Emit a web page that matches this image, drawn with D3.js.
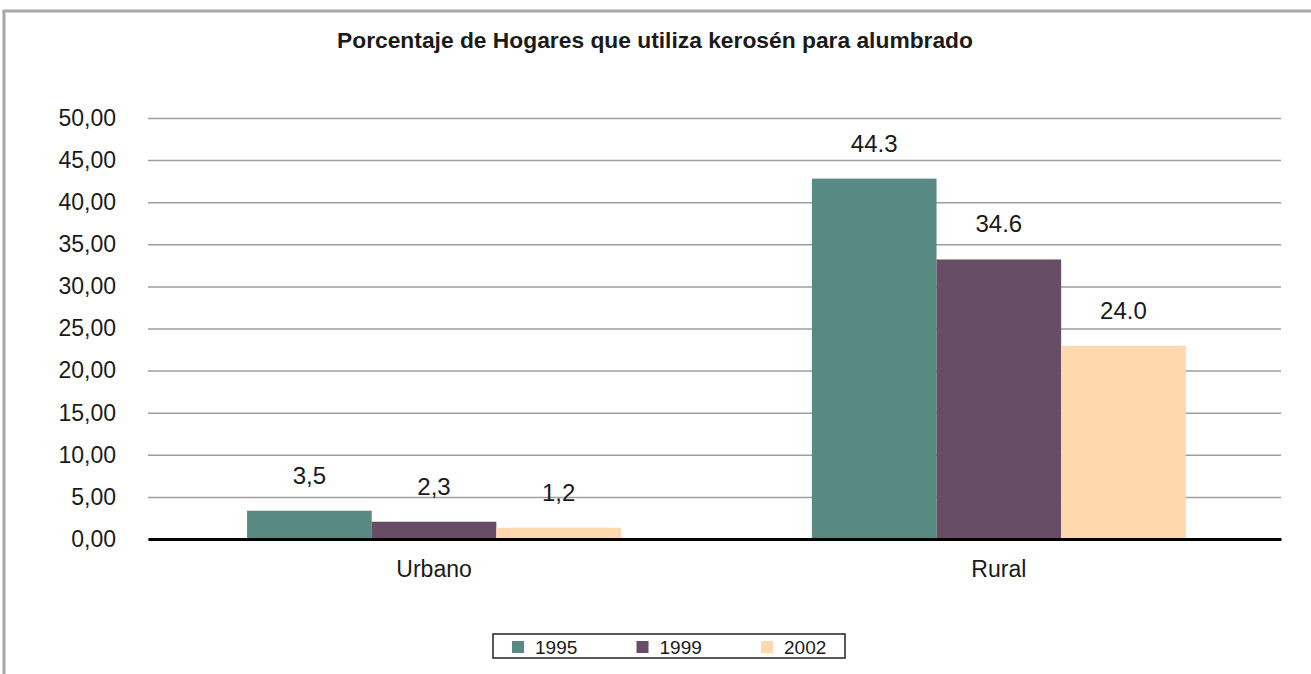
<!DOCTYPE html>
<html>
<head>
<meta charset="utf-8">
<script src="https://cdn.jsdelivr.net/npm/d3@7"></script>
<style>
  body { margin: 0; background: #fff; }
  svg { display: block; font-family: "Liberation Sans", Arial, sans-serif; }
</style>
</head>
<body>
<svg id="chart"></svg>
<script>
// datos
const categories = ["Urbano", "Rural"]
const years = ["1995", "1999", "2002"]
const values1995 = [3.36, 42.8]
const values1999 = [2.05, 33.2]
const values2002 = [1.34, 22.95]
const labels1995 = ["3,5", "44.3"]
const labels1999 = ["2,3", "34.6"]
const labels2002 = ["1,2", "24.0"]
const yTicks = [0, 5, 10, 15, 20, 25, 30, 35, 40, 45, 50]
const colors = ["#588983", "#684d66", "#ffd8ae"]

const width = 1311
const height = 674
const margin = {top: 118, right: 30, bottom: 135, left: 148}

const series = [values1995, values1999, values2002]
const labels = [labels1995, labels1999, labels2002]

// armar filas por categoria
let rows = categories.map((c, i) => ({
  cat: c,
  bars: years.map((yr, j) => ({year: yr, value: series[j][i], label: labels[j][i], idx: j}))
}))

const svg = d3.select("svg#chart")
  .attr("width", width)
  .attr("height", height)

// marco gris
svg.append("rect")
  .attr("x", 4)
  .attr("y", 11)
  .attr("width", width + 10)
  .attr("height", height + 10)
  .attr("fill", "none")
  .attr("stroke", "#a8a8a8")
  .attr("stroke-width", 3)

svg.append("text")
  .attr("x", 655)
  .attr("y", 48)
  .attr("text-anchor", "middle")
  .attr("font-size", 22.8)
  .attr("font-weight", "bold")
  .attr("fill", "#1a1a1a")
  .text("Porcentaje de Hogares que utiliza kerosén para alumbrado")

const x0 = d3.scaleBand()
  .domain(categories)
  .range([margin.left, width - margin.right])
  .paddingInner(0.338)
  .paddingOuter(0.172)
  .align(0.51)

const x1 = d3.scaleBand()
  .domain(years)
  .range([0, x0.bandwidth()])

const y = d3.scaleLinear()
  .domain([0, 50])
  .range([height - margin.bottom, margin.top])

const comma = d3.formatLocale({decimal: ",", thousands: ".", grouping: [3], currency: ["", ""]}).format(".2f")

const yAxis = svg.append("g")
  .attr("transform", `translate(${margin.left},0)`)
  .call(d3.axisLeft(y)
    .tickValues(yTicks)
    .tickFormat(comma)
    .tickSizeInner(-(width - margin.left - margin.right))
    .tickSizeOuter(0)
    .tickPadding(32))

yAxis.select(".domain").remove()
yAxis.selectAll(".tick line")
  .attr("stroke", "#9e9e9e")
  .attr("stroke-width", 1.5)
yAxis.selectAll(".tick text")
  .attr("font-size", 23)
  .attr("fill", "#1a1a1a")
  .attr("font-family", "Liberation Sans, Arial, sans-serif")

const groups = svg.append("g")
  .selectAll("g")
  .data(rows)
  .join("g")
  .attr("transform", d => `translate(${x0(d.cat)},0)`)

groups.selectAll("rect")
  .data(d => d.bars)
  .join("rect")
  .attr("x", d => x1(d.year))
  .attr("y", d => y(d.value))
  .attr("width", x1.bandwidth())
  .attr("height", d => y(0) - y(d.value))
  .attr("fill", d => colors[d.idx])

groups.selectAll("text")
  .data(d => d.bars)
  .join("text")
  .attr("x", d => x1(d.year) + x1.bandwidth() / 2)
  .attr("y", d => y(d.value) - 27)
  .attr("text-anchor", "middle")
  .attr("font-size", 24)
  .attr("fill", "#1a1a1a")
  .text(d => d.label)

// eje x
const xAxis = svg.append("g")
  .attr("transform", `translate(0,${y(0)})`)
  .call(d3.axisBottom(x0).tickSize(0).tickPadding(22))

xAxis.select(".domain")
  .attr("stroke", "#000")
  .attr("stroke-width", 3)
xAxis.selectAll(".tick text")
  .attr("font-size", 23)
  .attr("fill", "#1a1a1a")
  .attr("font-family", "Liberation Sans, Arial, sans-serif")

// leyenda
const legend = svg.append("g")
  .attr("transform", "translate(493,634)")

legend.append("rect")
  .attr("width", 352)
  .attr("height", 24)
  .attr("fill", "#fff")
  .attr("stroke", "#222")
  .attr("stroke-width", 1.5)

const item = legend.selectAll("g.item")
  .data(years)
  .join("g")
  .attr("class", "item")
  .attr("transform", (d, i) => `translate(${19 + i * 124.5},0)`)

item.append("rect")
  .attr("y", 7)
  .attr("width", 12)
  .attr("height", 12)
  .attr("fill", (d, i) => colors[i])

item.append("text")
  .attr("x", 23)
  .attr("y", 20)
  .attr("font-size", 19)
  .attr("fill", "#1a1a1a")
  .text(d => d)
</script>
</body>
</html>
